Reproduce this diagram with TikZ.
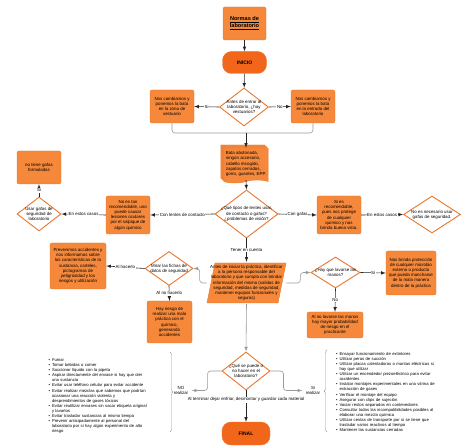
\documentclass[tikz,border=0pt]{standalone}
\usepackage{fontspec}
\setmainfont{Liberation Sans}
\usepackage{xcolor}
\usepackage{enumitem}
\usepackage{tikz}
\usetikzlibrary{calc, shapes.geometric, shapes.symbols, shadows, decorations.pathreplacing, positioning}

\definecolor{naranja}{HTML}{F5883A}
\definecolor{naranjaosc}{HTML}{F2661B}
\definecolor{borde}{HTML}{E9772C}
\definecolor{gris}{HTML}{9A9A9A}

\newcommand{\letra}{\fontsize{4.4}{5.2}\selectfont}

\tikzset{
  caja/.style={draw=borde, fill=naranja, rounded corners=2pt, align=center, inner sep=1.5pt, font=\letra},
  rombo/.style={diamond, draw=borde, line width=0.9pt, fill=white, aspect=1.3, inner sep=-3pt, align=center, font=\letra},
  pildora/.style={draw=borde, fill=naranjaosc, rounded corners=9pt, minimum width=44pt, minimum height=22pt, font=\fontsize{5}{6}\selectfont\bfseries},
  documento/.style={tape, tape bend top=none, tape bend height=3pt, draw=borde, fill=naranja, align=left, inner sep=2pt, font=\letra,
    double copy shadow={shadow xshift=-1.5pt, shadow yshift=1.5pt, draw=borde, fill=naranja}},
  etiqueta/.style={fill=white, inner sep=0.6pt, font=\letra},
  flecha/.style={->, line width=0.6pt, draw=black!85},
  lineagris/.style={line width=0.6pt, draw=gris, rounded corners=3pt},
}

\begin{document}
\begin{tikzpicture}[>=latex, x=1pt, y=-1pt]
    \useasboundingbox (0,0) rectangle (474,446);

    % Titulo e inicio
    \node[caja, minimum width=43pt, minimum height=33pt, font=\fontsize{5.6}{7}\selectfont\bfseries] (titulo) at (244.5,23.5) {\underline{Normas de}\\\underline{laboratorio}};
    \node[pildora] (inicio) at (244.5,62.5) {INICIO};
    \draw[flecha] (titulo) -- (inicio);

    % Vestuarios
    \node[rombo, minimum width=49pt, minimum height=38pt] (rVest) at (244,107) {Antes de entrar al\\laboratorio, ¿hay\\vestuarios?};
    \node[caja, minimum width=44pt, minimum height=33pt] (vestA) at (172,106.5) {Nos cambiamos y\\ponemos la bata\\en la zona de\\vestuario};
    \node[caja, minimum width=44pt, minimum height=33pt] (vestB) at (313,106.5) {Nos cambiamos y\\ponemos la bata\\en la entrada del\\laboratorio};
    \draw[flecha] (inicio) -- (rVest);
    \draw[flecha] (rVest.west) -- node[etiqueta] {Si} (vestA.east);
    \draw[flecha] (rVest.east) -- node[etiqueta] {No} (vestB.west);

    % Bata y EPP
    \node[documento, minimum width=44pt, minimum height=35pt] (doc) at (246,164) {Bata abotonada,\\ningún accesorio,\\cabello recogido,\\zapatos cerrados,\\gorro, guantes, EPP.};
    \coordinate (union) at (246,133);
    \draw[lineagris] (vestA.south) |- (union) -| (vestB.south);
    \draw[flecha] (union) -- (doc.north);

    % Lentes o gafas
    \node[rombo, minimum width=63pt, minimum height=48pt] (rLentes) at (246.5,214) {¿Qué tipos de lentes usar,\\de contacto o gafas?\\¿problemas de visión?};
    \draw[flecha] (doc.south) -- (rLentes.north);
    \node[caja, minimum width=44pt, minimum height=38pt] (lentes) at (128,215) {No es tan\\recomendable, uno\\puede causar\\lesiones oculares\\por el salpique de\\algún químico};
    \node[rombo, minimum width=44pt, minimum height=34pt] (rUsar) at (39,214) {Usar gafas de\\seguridad de\\laboratorio};
    \node[caja, minimum width=44pt, minimum height=33pt] (noGafas) at (39,167.5) {no tiene gafas\\formuladas};
    \draw[flecha] (rLentes.west) -- node[etiqueta] {Con lentes de contacto} (lentes.east);
    \draw[flecha] (lentes.west) -- node[etiqueta] {En estos casos} (rUsar.east);
    \draw[flecha] (rUsar.north) -- node[etiqueta] {Si} (noGafas.south);

    \node[caja, minimum width=44pt, minimum height=38pt] (conGafas) at (339,215) {Si es\\recomendable,\\pues nos protege\\de cualquier\\químico y nos\\brinda buena vista.};
    \node[rombo, minimum width=57pt, minimum height=37pt] (rNoNec) at (432,214.5) {No es necesario usar\\gafas de seguridad.};
    \draw[flecha] (rLentes.east) -- node[etiqueta] {Con gafas} (conGafas.west);
    \draw[flecha] (conGafas.east) -- node[etiqueta] {En estos casos} (rNoNec.west);

    % Responsable del laboratorio
    \filldraw[draw=borde, fill=naranja] (215,263) -- (286,263) -- (278,303) -- (207,303) -- cycle;
    \node[font=\letra, align=center] (paral) at (246.5,283) {Antes de iniciar la práctica, identificar\\a la persona responsable del\\laboratorio y que cumpla con brindar\\información del mismo (salidas de\\seguridad, medidas de seguridad,\\mantener equipos funcionales y\\seguros)};
    \draw[flecha] (rLentes.south) -- node[etiqueta] {Tener en cuenta} (paral.north);

    % Fichas de seguridad
    \node[rombo, minimum width=48pt, minimum height=34pt] (rFichas) at (169,268.5) {Mirar las fichas de\\datos de seguridad};
    \node[caja, minimum width=56pt, minimum height=46pt] (hacerlo) at (78,266) {Prevenimos accidentes y\\nos informamos sobre\\las características de la\\sustancia, carteles,\\pictogramas de\\peligrosidad y los\\riesgos y utilización};
    \node[caja, minimum width=45pt, minimum height=42pt] (noHacerlo) at (169.5,322) {Hay riesgo de\\realizar una mala\\práctica con el\\químico,\\generando\\accidentes};
    \draw[lineagris, ->] (paral.west) -- ++(-7,0) |- (rFichas.east);
    \draw[flecha] (rFichas.west) -- node[etiqueta] {Al hacerlo} (hacerlo.east);
    \draw[flecha] (rFichas.south) -- node[etiqueta] {Al no hacerlo} (noHacerlo.north);

    % Lavarse las manos
    \node[rombo, minimum width=49pt, minimum height=31pt] (rLavar) at (335.5,272.5) {¿Hay que lavarse las\\manos?};
    \node[caja, minimum width=50pt, minimum height=44pt] (proteccion) at (411,273) {Nos brinda protección\\de cualquier microbio\\externo o producto\\que pueda mancharse\\de la mala manera\\dentro de la práctica};
    \node[caja, minimum width=56pt, minimum height=26pt] (noLavar) at (335,325) {Al no lavarse las manos\\hay mayor probabilidad\\de riesgo en el\\practicante};
    \draw[lineagris, ->] (paral.east) -- ++(14,0) |- (rLavar.west);
    \draw[flecha] (rLavar.east) -- node[etiqueta] {Si} (proteccion.west);
    \draw[flecha] (rLavar.south) -- node[etiqueta] {No} (noLavar.north);

    % Que se puede hacer
    \node[rombo, minimum width=48pt, minimum height=38pt] (rHacer) at (246,371) {¿Qué se puede o\\no hacer en el\\laboratorio?};
    \draw[lineagris, ->] (paral.south) -- (rHacer.north);
    \node[font=\letra, align=center] (noReal) at (181,390.5) {NO\\realizar};
    \node[font=\letra, align=center] (siReal) at (313,390.5) {Si\\realizar};
    \draw[lineagris, ->] (rHacer.west) -- ++(-14,0) |- (noReal.east);
    \draw[lineagris, ->] (rHacer.east) -- ++(13,0) |- (siReal.west);

    % Listas
    \draw[gris, decorate, decoration={brace, amplitude=3pt}] (170,352) -- (170,432);
    \draw[gris, decorate, decoration={brace, amplitude=3pt}] (327,432) -- (327,350);
    \node[font=\fontsize{4.2}{5.1}\selectfont, text width=100pt, align=left] (listaNo) at (97,395) {%
      \begin{itemize}[leftmargin=5pt, labelsep=2pt, label=\textbullet, nosep]
        \item Fumar
        \item Tomar bebidas o comer
        \item Succionar líquido con la pipeta
        \item Aspirar directamente del envase si hay que oler una sustancia
        \item Evitar usar teléfono celular para evitar accidente
        \item Evitar realizar mezclas que sabemos que podrían ocasionar una reacción violenta y desprendimientos de gases tóxicos
        \item Evitar reutilizar envases sin sacar etiqueta original y lavarlos
        \item Evitar trasladar sustancias al mismo tiempo
        \item Prevenir anticipadamente al personal del laboratorio por si hay algún experimento de alto riesgo
      \end{itemize}};
    \node[font=\fontsize{4.2}{5.1}\selectfont, text width=103pt, align=left] (listaSi) at (386,391) {%
      \begin{itemize}[leftmargin=5pt, labelsep=2pt, label=\textbullet, nosep]
        \item Ensayar funcionamiento de extintores
        \item Utilizar peras de succión
        \item Utilizar placas calentadoras o mantas eléctricas si hay que utilizar
        \item Utilizar un encendedor piezoeléctrico para evitar accidentes
        \item Instalar montajes experimentales en una vitrina de extracción de gases
        \item Verificar el montaje del equipo
        \item Asegurar con clips de sujeción
        \item Vaciar restos separados en contenedores
        \item Consultar todas las incompatibilidades posibles al elaborar una mezcla química
        \item Utilizar cestas de transporte por si se tiene que trasladar varios reactivos al tiempo
        \item Mantener las sustancias cerradas
      \end{itemize}};

    % Final
    \node[pildora, minimum width=48pt, minimum height=23pt] (final) at (246,433.5) {FINAL};
    \draw[flecha] (rHacer.south) -- node[etiqueta, pos=0.3] {Al terminar dejar enfriar, desmontar y guardar cada material} (final.north);
\end{tikzpicture}
\end{document}
